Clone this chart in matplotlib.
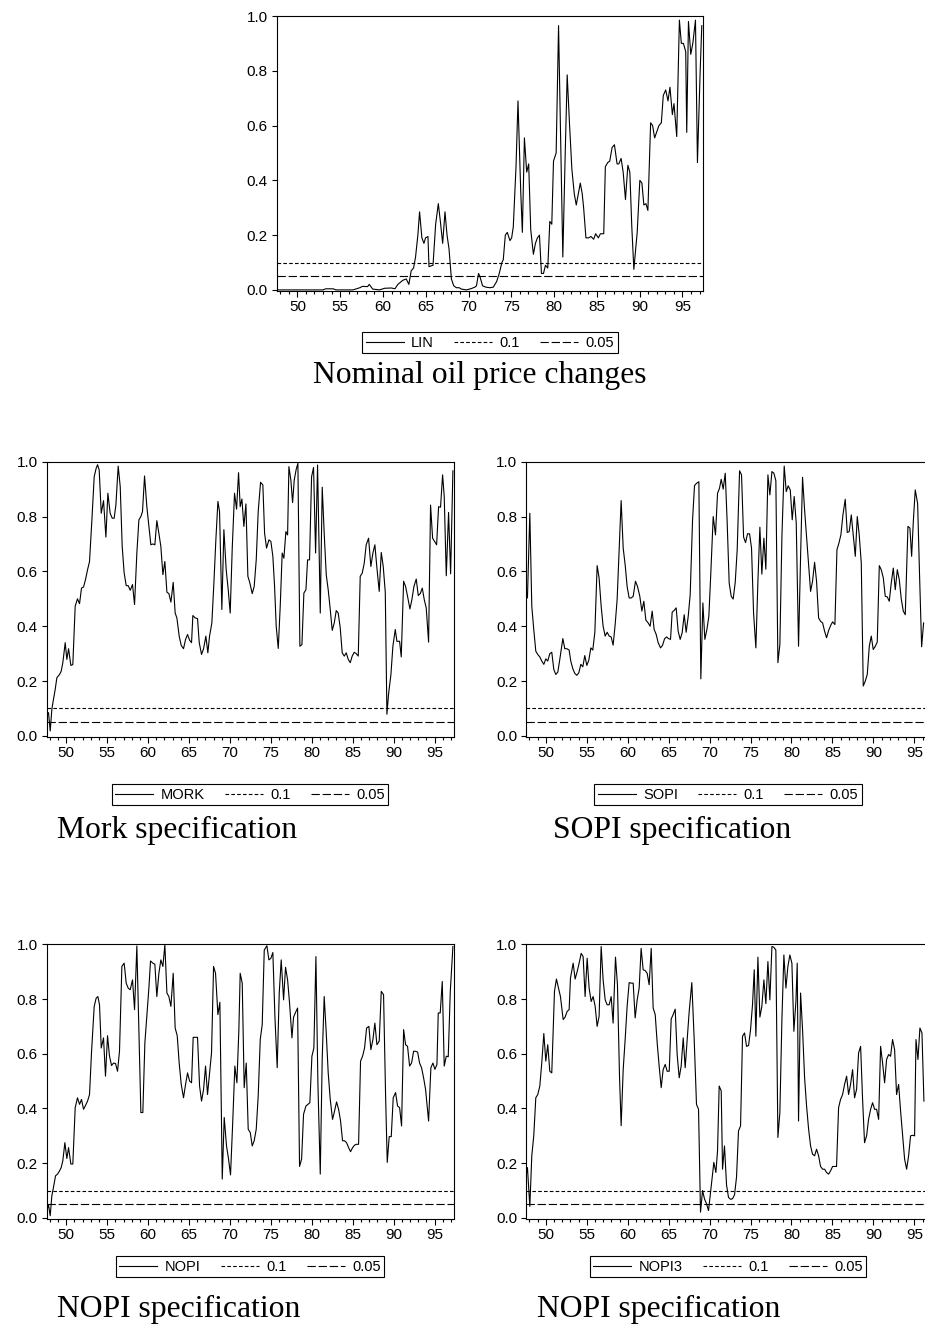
import matplotlib
matplotlib.use("Agg")
import matplotlib.pyplot as plt
from matplotlib.lines import Line2D
from matplotlib.ticker import MultipleLocator, FormatStrFormatter

plt.rcParams["font.family"] = ["Liberation Sans", "DejaVu Sans"]
plt.rcParams["lines.scale_dashes"] = False

# ---- data (decimal years 19xx) ----
lin_years = [47.55, 53.0, 53.3, 54.2, 54.5, 56.5, 57.3, 57.6, 58.2, 58.4,
             58.8, 59.6, 60.2, 61.0, 61.4, 61.74, 62.32, 62.72, 63.03, 63.30,
             63.58, 63.81, 64.08, 64.28, 64.55, 64.79, 64.98, 65.26, 65.38, 65.85,
             66.16, 66.47, 66.71, 66.98, 67.25, 67.49, 67.72, 68.0, 68.27, 68.58,
             68.90, 69.17, 69.76, 70.34, 70.74, 70.93, 71.17, 71.32, 71.64, 72.03,
             72.50, 72.89, 73.28, 73.59, 73.90, 74.06, 74.30, 74.53, 74.84, 75.04,
             75.23, 75.55, 75.78, 76.10, 76.29, 76.53, 76.80, 77.03, 77.27, 77.58,
             77.82, 78.05, 78.29, 78.52, 78.76, 78.99, 79.26, 79.50, 79.73, 79.93,
             80.24, 80.52, 80.79, 81.02, 81.30, 81.53, 81.81, 82.08, 82.36, 82.59,
             82.82, 83.06, 83.29, 83.45, 83.72, 84.04, 84.31, 84.62, 84.86, 85.17,
             85.41, 85.80, 85.99, 86.27, 86.50, 86.78, 87.05, 87.36, 87.56, 87.83,
             88.07, 88.34, 88.62, 88.85, 89.08, 89.32, 89.71, 90.02, 90.26, 90.49,
             90.73, 90.96, 91.28, 91.51, 91.75, 92.25, 92.53, 92.76, 93.04, 93.31,
             93.54, 93.82, 94.01, 94.33, 94.64, 94.87, 95.11, 95.38, 95.50, 95.70,
             95.97, 96.21, 96.52, 96.75, 97.07, 97.26]
lin_values = [0.0, 0.0, 0.004, 0.004, 0.0, 0.0, 0.008, 0.013, 0.012, 0.02,
              0.003, 0.0, 0.006, 0.007, 0.004, 0.02, 0.035, 0.04, 0.02, 0.07,
              0.08, 0.12, 0.2, 0.285, 0.19, 0.17, 0.19, 0.195, 0.085, 0.09,
              0.24, 0.315, 0.25, 0.17, 0.285, 0.2, 0.15, 0.04, 0.015, 0.008,
              0.008, 0.003, 0.0, 0.005, 0.01, 0.015, 0.06, 0.05, 0.015, 0.01,
              0.008, 0.01, 0.03, 0.06, 0.1, 0.11, 0.2, 0.21, 0.18, 0.19,
              0.23, 0.45, 0.69, 0.36, 0.21, 0.555, 0.43, 0.46, 0.22, 0.13,
              0.17, 0.19, 0.2, 0.06, 0.06, 0.09, 0.08, 0.25, 0.24, 0.47,
              0.5, 0.965, 0.5, 0.12, 0.5, 0.785, 0.6, 0.44, 0.35, 0.31,
              0.35, 0.39, 0.35, 0.3, 0.19, 0.19, 0.195, 0.185, 0.205, 0.19,
              0.205, 0.205, 0.45, 0.465, 0.47, 0.52, 0.53, 0.46, 0.46, 0.48,
              0.43, 0.33, 0.455, 0.43, 0.23, 0.075, 0.21, 0.4, 0.39, 0.31,
              0.315, 0.29, 0.61, 0.6, 0.555, 0.6, 0.61, 0.71, 0.73, 0.69,
              0.74, 0.64, 0.68, 0.56, 0.985, 0.9, 0.9, 0.87, 0.575, 0.98,
              0.86, 0.9, 0.985, 0.465, 0.8, 0.965]

mork_years = [47.64, 47.84, 48.05, 48.25, 48.37, 48.66, 48.86, 49.19, 49.39, 49.59,
              49.88, 50.08, 50.29, 50.57, 50.81, 51.10, 51.38, 51.63, 51.87, 52.12,
              52.36, 52.61, 52.85, 53.14, 53.42, 53.66, 53.83, 54.03, 54.28, 54.56,
              54.85, 55.09, 55.37, 55.62, 55.86, 56.07, 56.35, 56.60, 56.84, 57.08,
              57.33, 57.57, 57.82, 58.10, 58.35, 58.63, 58.88, 59.12, 59.32, 59.57,
              59.85, 60.14, 60.34, 60.59, 60.83, 61.07, 61.32, 61.56, 61.81, 62.05,
              62.30, 62.54, 62.79, 63.07, 63.31, 63.52, 63.80, 64.05, 64.33, 64.58,
              64.82, 65.07, 65.31, 65.47, 65.76, 66.04, 66.25, 66.53, 66.78, 67.06,
              67.30, 67.51, 67.79, 68.04, 68.28, 68.53, 68.73, 69.01, 69.26, 69.54,
              69.79, 70.03, 70.28, 70.56, 70.81, 71.05, 71.25, 71.46, 71.70, 71.95,
              72.19, 72.43, 72.72, 72.96, 73.21, 73.45, 73.74, 74.02, 74.23, 74.47,
              74.76, 75.00, 75.24, 75.45, 75.65, 75.90, 76.14, 76.38, 76.59, 76.83,
              77.04, 77.20, 77.44, 77.65, 77.85, 78.09, 78.30, 78.54, 78.79, 79.03,
              79.28, 79.48, 79.72, 79.97, 80.21, 80.46, 80.70, 81.03, 81.27, 81.51,
              81.76, 82.00, 82.25, 82.49, 82.74, 82.98, 83.22, 83.47, 83.71, 83.96,
              84.20, 84.45, 84.69, 84.93, 85.18, 85.42, 85.67, 85.91, 86.16, 86.40,
              86.64, 86.93, 87.21, 87.46, 87.70, 87.95, 88.23, 88.48, 88.72, 88.97,
              89.17, 89.37, 89.66, 89.90, 90.19, 90.39, 90.72, 90.92, 91.21, 91.45,
              91.69, 91.98, 92.22, 92.47, 92.75, 93.00, 93.24, 93.49, 93.73, 93.97,
              94.26, 94.50, 94.75, 94.99, 95.24, 95.48, 95.72, 95.97, 96.17, 96.42,
              96.70, 96.95, 97.23]
mork_values = [0.073, 0.085, 0.018, 0.097, 0.12, 0.17, 0.212, 0.224, 0.236, 0.267,
               0.34, 0.279, 0.318, 0.257, 0.26, 0.473, 0.5, 0.482, 0.539, 0.543,
               0.57, 0.606, 0.636, 0.788, 0.945, 0.976, 0.989, 0.97, 0.812, 0.858,
               0.725, 0.885, 0.812, 0.794, 0.794, 0.842, 0.984, 0.909, 0.691, 0.594,
               0.548, 0.548, 0.531, 0.552, 0.479, 0.667, 0.788, 0.8, 0.818, 0.948,
               0.836, 0.752, 0.697, 0.7, 0.697, 0.785, 0.739, 0.691, 0.588, 0.636,
               0.524, 0.519, 0.488, 0.56, 0.448, 0.43, 0.364, 0.33, 0.318, 0.352,
               0.37, 0.349, 0.34, 0.439, 0.43, 0.428, 0.34, 0.297, 0.318, 0.364,
               0.303, 0.364, 0.412, 0.558, 0.715, 0.855, 0.818, 0.461, 0.752, 0.606,
               0.533, 0.448, 0.685, 0.885, 0.827, 0.96, 0.836, 0.864, 0.764, 0.846,
               0.582, 0.558, 0.519, 0.545, 0.642, 0.818, 0.925, 0.915, 0.739, 0.685,
               0.715, 0.709, 0.655, 0.545, 0.4, 0.319, 0.473, 0.667, 0.648, 0.745,
               0.733, 0.982, 0.933, 0.851, 0.933, 0.972, 0.994, 0.327, 0.333, 0.521,
               0.533, 0.642, 0.642, 0.945, 0.979, 0.667, 0.988, 0.448, 0.907, 0.739,
               0.588, 0.533, 0.461, 0.385, 0.412, 0.457, 0.448, 0.394, 0.303, 0.291,
               0.303, 0.279, 0.267, 0.291, 0.305, 0.3, 0.291, 0.582, 0.594, 0.63,
               0.697, 0.721, 0.618, 0.667, 0.697, 0.612, 0.527, 0.669, 0.618, 0.524,
               0.079, 0.152, 0.224, 0.327, 0.388, 0.345, 0.345, 0.288, 0.564, 0.545,
               0.509, 0.463, 0.497, 0.545, 0.572, 0.512, 0.519, 0.539, 0.497, 0.467,
               0.342, 0.842, 0.721, 0.709, 0.697, 0.836, 0.834, 0.952, 0.873, 0.584,
               0.815, 0.591, 0.967]

sopi_years = [47.56, 47.76, 48.05, 48.29, 48.53, 48.78, 49.02, 49.27, 49.51, 49.76,
              50.00, 50.24, 50.49, 50.73, 50.98, 51.22, 51.47, 51.71, 52.08, 52.32,
              52.57, 52.85, 53.05, 53.30, 53.54, 53.79, 54.03, 54.28, 54.52, 54.76,
              55.01, 55.25, 55.50, 55.74, 55.99, 56.27, 56.51, 56.76, 57.00, 57.25,
              57.49, 57.74, 57.98, 58.22, 58.47, 58.71, 58.96, 59.20, 59.45, 59.69,
              59.93, 60.18, 60.42, 60.67, 60.95, 61.20, 61.48, 61.73, 61.97, 62.22,
              62.50, 62.74, 62.99, 63.23, 63.48, 63.72, 64.01, 64.25, 64.50, 64.74,
              64.98, 65.23, 65.43, 65.68, 65.92, 66.16, 66.41, 66.65, 66.90, 67.14,
              67.39, 67.63, 67.92, 68.16, 68.40, 68.69, 68.93, 69.18, 69.42, 69.67,
              69.91, 70.15, 70.44, 70.72, 70.97, 71.21, 71.42, 71.66, 71.91, 72.15,
              72.39, 72.64, 72.88, 73.13, 73.37, 73.66, 73.90, 74.15, 74.39, 74.63,
              74.88, 75.12, 75.37, 75.65, 75.90, 76.14, 76.38, 76.63, 76.87, 77.12,
              77.36, 77.61, 77.85, 78.09, 78.34, 78.58, 78.83, 79.11, 79.36, 79.60,
              79.85, 80.09, 80.33, 80.58, 80.86, 81.11, 81.35, 81.60, 81.84, 82.09,
              82.33, 82.57, 82.82, 83.06, 83.31, 83.55, 83.80, 84.04, 84.28, 84.53,
              84.77, 85.02, 85.30, 85.55, 85.79, 86.03, 86.28, 86.56, 86.81, 87.05,
              87.30, 87.54, 87.79, 88.03, 88.27, 88.52, 88.76, 89.01, 89.25, 89.50,
              89.74, 89.98, 90.23, 90.47, 90.72, 90.96, 91.21, 91.45, 91.69, 91.94,
              92.18, 92.43, 92.67, 92.92, 93.16, 93.40, 93.65, 93.89, 94.22, 94.46,
              94.67, 94.87, 95.11, 95.40, 95.64, 95.89, 96.13]
sopi_values = [0.539, 0.503, 0.812, 0.473, 0.388, 0.309, 0.297, 0.288, 0.273, 0.261,
               0.281, 0.273, 0.3, 0.305, 0.242, 0.224, 0.233, 0.279, 0.355, 0.318,
               0.318, 0.313, 0.273, 0.245, 0.228, 0.221, 0.23, 0.261, 0.252, 0.293,
               0.257, 0.276, 0.321, 0.313, 0.378, 0.621, 0.576, 0.473, 0.4, 0.364,
               0.378, 0.364, 0.361, 0.331, 0.406, 0.497, 0.679, 0.858, 0.685, 0.624,
               0.545, 0.503, 0.503, 0.509, 0.564, 0.545, 0.509, 0.455, 0.491, 0.422,
               0.412, 0.4, 0.455, 0.388, 0.37, 0.34, 0.321, 0.33, 0.354, 0.361,
               0.355, 0.352, 0.451, 0.458, 0.467, 0.382, 0.352, 0.376, 0.442, 0.378,
               0.436, 0.515, 0.788, 0.913, 0.921, 0.927, 0.208, 0.485, 0.352, 0.388,
               0.436, 0.594, 0.8, 0.733, 0.885, 0.903, 0.936, 0.9, 0.958, 0.776,
               0.558, 0.509, 0.499, 0.56, 0.679, 0.967, 0.952, 0.725, 0.705, 0.737,
               0.737, 0.685, 0.448, 0.321, 0.564, 0.761, 0.59, 0.721, 0.608, 0.952,
               0.879, 0.964, 0.958, 0.931, 0.267, 0.333, 0.727, 0.984, 0.891, 0.912,
               0.897, 0.788, 0.873, 0.776, 0.327, 0.655, 0.943, 0.824, 0.727, 0.63,
               0.527, 0.564, 0.633, 0.564, 0.43, 0.418, 0.412, 0.382, 0.358, 0.384,
               0.402, 0.416, 0.406, 0.679, 0.703, 0.733, 0.806, 0.863, 0.742, 0.745,
               0.806, 0.73, 0.655, 0.8, 0.733, 0.63, 0.182, 0.2, 0.224, 0.327,
               0.364, 0.315, 0.327, 0.342, 0.621, 0.606, 0.576, 0.509, 0.507, 0.491,
               0.558, 0.612, 0.533, 0.606, 0.57, 0.50, 0.455, 0.442, 0.764, 0.758,
               0.655, 0.78, 0.897, 0.848, 0.582, 0.325, 0.412]

nopi_years = [47.64, 47.84, 48.05, 48.25, 48.45, 48.70, 48.94, 49.19, 49.39, 49.59,
              49.84, 50.08, 50.29, 50.57, 50.81, 51.10, 51.38, 51.63, 51.87, 52.12,
              52.36, 52.61, 52.85, 53.09, 53.42, 53.66, 53.87, 54.07, 54.28, 54.56,
              54.80, 55.05, 55.29, 55.54, 55.78, 56.03, 56.27, 56.51, 56.80, 57.08,
              57.33, 57.57, 57.82, 58.10, 58.35, 58.63, 58.88, 59.12, 59.36, 59.61,
              59.85, 60.10, 60.30, 60.59, 60.83, 61.07, 61.32, 61.56, 61.81, 62.05,
              62.30, 62.54, 62.79, 63.07, 63.31, 63.56, 63.80, 64.05, 64.33, 64.58,
              64.82, 65.07, 65.31, 65.51, 65.80, 66.04, 66.29, 66.53, 66.78, 67.02,
              67.26, 67.51, 67.75, 68.00, 68.24, 68.53, 68.77, 69.06, 69.30, 69.58,
              69.83, 70.07, 70.32, 70.60, 70.85, 71.09, 71.25, 71.50, 71.74, 71.99,
              72.23, 72.48, 72.72, 72.96, 73.21, 73.45, 73.70, 73.94, 74.19, 74.51,
              74.76, 75.00, 75.24, 75.49, 75.77, 76.02, 76.26, 76.55, 76.79, 77.04,
              77.28, 77.57, 77.77, 78.01, 78.26, 78.50, 78.75, 78.99, 79.28, 79.52,
              79.76, 80.01, 80.25, 80.50, 80.74, 81.03, 81.27, 81.51, 81.76, 82.00,
              82.25, 82.53, 82.78, 83.02, 83.27, 83.51, 83.75, 84.00, 84.24, 84.49,
              84.73, 84.98, 85.22, 85.46, 85.71, 85.95, 86.20, 86.44, 86.69, 86.97,
              87.21, 87.46, 87.70, 87.95, 88.23, 88.48, 88.76, 89.01, 89.21, 89.45,
              89.70, 89.94, 90.23, 90.47, 90.72, 90.96, 91.21, 91.45, 91.69, 91.94,
              92.18, 92.43, 92.67, 92.92, 93.16, 93.40, 93.65, 93.89, 94.26, 94.54,
              94.79, 95.03, 95.28, 95.44, 95.68, 95.93, 96.17, 96.42, 96.66, 96.91,
              97.23]
nopi_values = [0.027, 0.047, 0.008, 0.081, 0.112, 0.154, 0.16, 0.172, 0.184, 0.209,
               0.275, 0.217, 0.257, 0.197, 0.197, 0.403, 0.439, 0.415, 0.433, 0.397,
               0.411, 0.427, 0.451, 0.603, 0.773, 0.803, 0.809, 0.779, 0.621, 0.658,
               0.518, 0.666, 0.591, 0.557, 0.566, 0.564, 0.536, 0.609, 0.919, 0.931,
               0.858, 0.84, 0.834, 0.87, 0.761, 0.994, 0.688, 0.385, 0.385, 0.64,
               0.737, 0.84, 0.939, 0.931, 0.927, 0.809, 0.894, 0.943, 0.919, 0.998,
               0.822, 0.809, 0.773, 0.894, 0.694, 0.666, 0.566, 0.488, 0.439, 0.488,
               0.53, 0.5, 0.494, 0.66, 0.66, 0.66, 0.482, 0.427, 0.47, 0.555,
               0.451, 0.53, 0.603, 0.919, 0.894, 0.743, 0.788, 0.142, 0.367, 0.263,
               0.215, 0.157, 0.336, 0.555, 0.494, 0.688, 0.894, 0.858, 0.476, 0.566,
               0.324, 0.312, 0.263, 0.282, 0.324, 0.445, 0.652, 0.706, 0.979, 0.995,
               0.943, 0.949, 0.97, 0.737, 0.549, 0.822, 0.943, 0.797, 0.916, 0.87,
               0.785, 0.658, 0.734, 0.751, 0.767, 0.188, 0.215, 0.379, 0.409, 0.415,
               0.421, 0.591, 0.621, 0.955, 0.494, 0.16, 0.585, 0.809, 0.676, 0.53,
               0.433, 0.36, 0.391, 0.424, 0.397, 0.354, 0.282, 0.282, 0.275, 0.257,
               0.242, 0.257, 0.266, 0.269, 0.269, 0.573, 0.591, 0.621, 0.694, 0.7,
               0.615, 0.652, 0.712, 0.633, 0.646, 0.828, 0.816, 0.445, 0.203, 0.297,
               0.297, 0.439, 0.458, 0.409, 0.403, 0.336, 0.688, 0.633, 0.627, 0.555,
               0.566, 0.609, 0.609, 0.606, 0.566, 0.549, 0.512, 0.47, 0.354, 0.549,
               0.566, 0.543, 0.561, 0.749, 0.749, 0.864, 0.555, 0.591, 0.589, 0.828,
               0.992]

nopi3_years = [47.56, 47.76, 48.05, 48.29, 48.53, 48.78, 49.02, 49.27, 49.51, 49.76,
               50.00, 50.24, 50.49, 50.73, 51.06, 51.30, 51.55, 51.79, 52.12, 52.36,
               52.61, 52.85, 53.01, 53.34, 53.58, 53.83, 54.07, 54.32, 54.56, 54.80,
               55.05, 55.29, 55.54, 55.78, 56.03, 56.27, 56.51, 56.76, 57.00, 57.25,
               57.49, 57.74, 57.98, 58.22, 58.51, 58.75, 59.00, 59.20, 59.45, 59.69,
               59.93, 60.18, 60.42, 60.67, 60.91, 61.16, 61.40, 61.64, 61.89, 62.13,
               62.38, 62.62, 62.87, 63.11, 63.36, 63.60, 63.84, 64.09, 64.33, 64.58,
               64.82, 65.07, 65.31, 65.55, 65.80, 66.04, 66.29, 66.53, 66.78, 67.02,
               67.26, 67.51, 67.83, 68.12, 68.40, 68.65, 68.89, 69.14, 69.38, 69.63,
               69.87, 70.11, 70.36, 70.52, 70.77, 70.97, 71.17, 71.42, 71.58, 71.82,
               72.07, 72.31, 72.56, 72.80, 73.05, 73.29, 73.53, 73.78, 74.02, 74.27,
               74.51, 74.76, 75.00, 75.24, 75.45, 75.65, 75.90, 76.14, 76.38, 76.63,
               76.87, 77.12, 77.36, 77.61, 77.85, 78.09, 78.34, 78.58, 78.83, 79.07,
               79.32, 79.56, 79.80, 80.05, 80.29, 80.54, 80.70, 80.86, 81.11, 81.35,
               81.60, 81.84, 82.09, 82.33, 82.57, 82.82, 83.06, 83.31, 83.55, 83.80,
               84.04, 84.28, 84.53, 84.77, 85.02, 85.26, 85.50, 85.75, 85.99, 86.24,
               86.48, 86.73, 86.97, 87.21, 87.46, 87.70, 87.95, 88.19, 88.44, 88.68,
               88.92, 89.17, 89.41, 89.66, 89.90, 90.15, 90.39, 90.64, 90.88, 91.12,
               91.37, 91.61, 91.86, 92.10, 92.34, 92.59, 92.83, 93.08, 93.32, 93.57,
               93.81, 94.06, 94.30, 94.54, 94.79, 95.03, 95.20, 95.44, 95.68, 95.93,
               96.17]
nopi3_values = [0.148, 0.184, 0.042, 0.227, 0.3, 0.439, 0.451, 0.482, 0.567, 0.674,
                0.573, 0.633, 0.536, 0.53, 0.828, 0.873, 0.84, 0.809, 0.725, 0.734,
                0.755, 0.761, 0.876, 0.931, 0.873, 0.9, 0.931, 0.967, 0.955, 0.809,
                0.949, 0.84, 0.791, 0.809, 0.773, 0.7, 0.737, 0.992, 0.87, 0.797,
                0.779, 0.779, 0.809, 0.712, 0.953, 0.852, 0.518, 0.337, 0.542, 0.652,
                0.773, 0.86, 0.858, 0.858, 0.731, 0.797, 0.84, 0.985, 0.907, 0.904,
                0.894, 0.852, 0.985, 0.767, 0.743, 0.64, 0.555, 0.476, 0.542, 0.561,
                0.536, 0.536, 0.727, 0.743, 0.763, 0.597, 0.512, 0.555, 0.658, 0.549,
                0.652, 0.755, 0.86, 0.652, 0.415, 0.397, 0.021, 0.1, 0.069, 0.051,
                0.027, 0.093, 0.16, 0.203, 0.166, 0.245, 0.482, 0.464, 0.178, 0.263,
                0.12, 0.075, 0.068, 0.07, 0.085, 0.15, 0.318, 0.336, 0.664, 0.676,
                0.627, 0.63, 0.688, 0.779, 0.907, 0.664, 0.953, 0.734, 0.773, 0.87,
                0.783, 0.937, 0.797, 0.992, 0.989, 0.979, 0.294, 0.385, 0.725, 0.961,
                0.84, 0.919, 0.961, 0.931, 0.682, 0.791, 0.931, 0.354, 0.822, 0.688,
                0.512, 0.409, 0.324, 0.263, 0.233, 0.227, 0.251, 0.227, 0.188, 0.178,
                0.178, 0.166, 0.16, 0.172, 0.188, 0.188, 0.188, 0.403, 0.433, 0.451,
                0.488, 0.518, 0.451, 0.488, 0.542, 0.439, 0.47, 0.603, 0.627, 0.433,
                0.275, 0.3, 0.36, 0.397, 0.421, 0.397, 0.397, 0.36, 0.627, 0.567,
                0.494, 0.579, 0.597, 0.591, 0.652, 0.615, 0.451, 0.488, 0.391, 0.3,
                0.215, 0.178, 0.227, 0.3, 0.302, 0.3, 0.652, 0.579, 0.694, 0.676,
                0.427]

critical_values = [0.1, 0.05]
critical_labels = ["0.1", "0.05"]
y_ticks = [0.0, 0.2, 0.4, 0.6, 0.8, 1.0]

# ---- layout in pixels of the 925 x 1329 picture ----
W, H = 925, 1329
fig = plt.figure(figsize=(W / 100, H / 100), dpi=100)


def px_box(left, top, right, bottom):
    return [left / W, 1 - bottom / H, (right - left) / W, (bottom - top) / H]


panels = [
    # axes box, years, values, series name, legend centre/top, caption, caption x, baseline, align
    (px_box(277, 16, 703, 291), lin_years, lin_values, "LIN", (490, 332),
     "Nominal oil price changes", 480, 383, "center"),
    (px_box(46.7, 461.7, 454.3, 737), mork_years, mork_values, "MORK", (250, 784),
     "Mork specification", 57, 838, "left"),
    (px_box(526.3, 461.7, 934, 737), sopi_years, sopi_values, "SOPI", (728, 784),
     "SOPI specification", 553, 838, "left"),
    (px_box(46.7, 944.3, 454.3, 1219), nopi_years, nopi_values, "NOPI", (250, 1256),
     "NOPI specification", 57, 1317, "left"),
    (px_box(526.3, 944.3, 934, 1219), nopi3_years, nopi3_values, "NOPI3", (728, 1256),
     "NOPI specification", 537, 1317, "left"),
]

crit_styles = [(0, (2.6, 1.6)), (0, (6.0, 2.0))]

for rect, years, values, name, (lx, ly), caption, cx, cy, ha in panels:
    ax = fig.add_axes(rect)
    ax.plot(years, values, color="black", lw=0.8)
    for v, ls in zip(critical_values, crit_styles):
        ax.axhline(v, color="black", lw=0.8, ls=ls)

    ax.set_xlim(47.62, 97.4)
    ax.set_ylim(-0.004, 1.0)
    ax.set_yticks(y_ticks)
    ax.yaxis.set_major_formatter(FormatStrFormatter("%.1f"))
    ax.xaxis.set_major_locator(MultipleLocator(5))
    ax.xaxis.set_minor_locator(MultipleLocator(1))
    ax.tick_params(axis="x", which="major", direction="out", length=4.5, width=0.8,
                   labelsize=11, pad=2)
    ax.tick_params(axis="x", which="minor", direction="out", length=2.5, width=0.8)
    ax.tick_params(axis="y", which="major", direction="out", length=3.5, width=0.8,
                   labelsize=11, pad=3)
    for sp in ax.spines.values():
        sp.set_linewidth(0.8)

    handles = [Line2D([], [], color="black", lw=0.8)]
    handles += [Line2D([], [], color="black", lw=0.8, ls=ls) for ls in crit_styles]
    leg = ax.legend(handles, [name] + critical_labels, loc="upper center",
                    bbox_to_anchor=(lx / W, 1 - ly / H), bbox_transform=fig.transFigure,
                    ncol=3, fontsize=10.5, frameon=True, fancybox=False,
                    edgecolor="black", framealpha=1, borderaxespad=0,
                    handlelength=2.6, handletextpad=0.5, columnspacing=1.4,
                    borderpad=0.25)
    leg.get_frame().set_linewidth(0.8)

    fig.text(cx / W, 1 - cy / H, caption, ha=ha, va="baseline", fontsize=22.8,
             family=["Liberation Serif", "DejaVu Serif"])

fig.savefig("out.png", dpi=100)
